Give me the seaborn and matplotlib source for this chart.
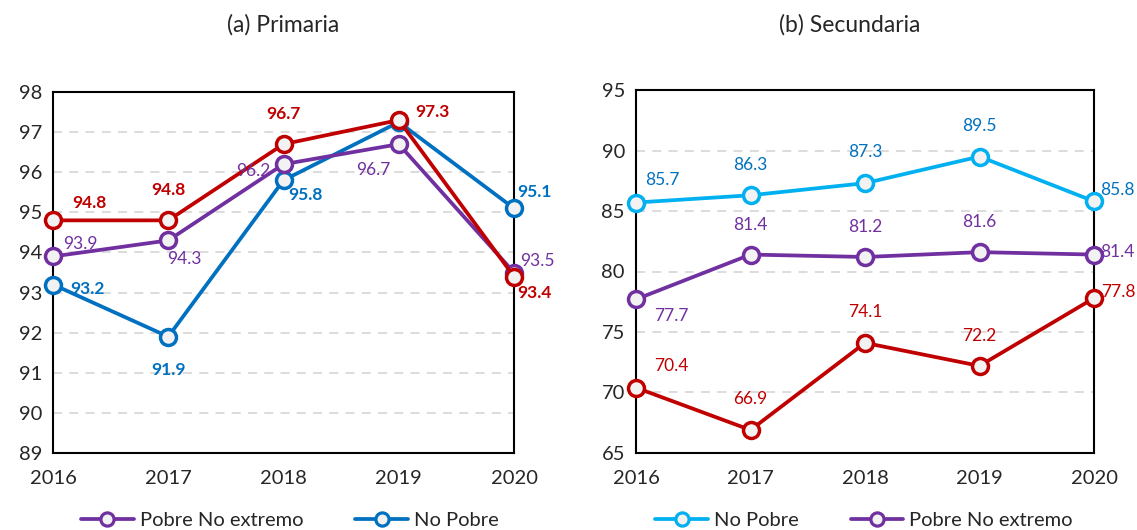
import pandas as pd
import seaborn as sns
import matplotlib
matplotlib.use('Agg')
import matplotlib.pyplot as plt
from matplotlib.lines import Line2D

# datos
anios = [2016, 2017, 2018, 2019, 2020]

prim_extremo = [94.8, 94.8, 96.7, 97.3, 93.4]
prim_no_extremo = [93.9, 94.3, 96.2, 96.7, 93.5]
prim_no_pobre = [93.2, 91.9, 95.8, 97.25, 95.1]

sec_no_pobre = [85.7, 86.3, 87.3, 89.5, 85.8]
sec_no_extremo = [77.7, 81.4, 81.2, 81.6, 81.4]
sec_extremo = [70.4, 66.9, 74.1, 72.2, 77.8]

ROJO = '#C00000'
MORADO = '#7030A0'
AZUL = '#0070C0'
CELESTE = '#00B0F0'
RELLENO = '#F2F2F2'

sns.set_style('white')
plt.rcParams['font.family'] = ['Lato', 'DejaVu Sans']

# offsets de las etiquetas en pixeles (dx, dy, alineación); None = sin etiqueta
off_prim = {
    'Pobre extremo': [(36, 17, 'center'), (0, 30, 'center'), (0, 30, 'center'),
                      (34, 8, 'center'), (20, -16, 'center')],
    'Pobre No extremo': [(27, 12, 'center'), (16, -19, 'center'), (-30, -7, 'center'),
                         (-25, -26, 'center'), (23, 11, 'center')],
    'No Pobre': [(34, -4, 'center'), (0, -33, 'center'), (22, -15, 'center'),
                 None, (20, 16, 'center')],
}
off_sec = {
    'No Pobre': [(26, 23, 'center'), (0, 30, 'center'), (0, 31, 'center'),
                 (0, 31, 'center'), (6, 11, 'left')],
    'Pobre No extremo': [(35, -17, 'center'), (0, 30, 'center'), (0, 30, 'center'),
                         (0, 30, 'center'), (6, 3, 'left')],
    'Pobre extremo': [(35, 22, 'center'), (0, 31, 'center'), (0, 31, 'center'),
                      (0, 30, 'center'), (7, 6, 'left')],
}


def armar_df(series):
    filas = []
    for nombre, valores in series.items():
        for a, v in zip(anios, valores):
            filas.append({'Año': a, 'Valor': v, 'Grupo': nombre})
    return pd.DataFrame(filas)


def dibujar(ax, df, orden, colores, col_texto, offsets, negrita, ylim, yticks):
    for z, grupo in enumerate(orden):
        sub = df[df['Grupo'] == grupo]
        c = colores[grupo]
        sns.lineplot(data=sub, x='Año', y='Valor', ax=ax, color=c, marker='o',
                     markersize=11.5, markerfacecolor=RELLENO, markeredgecolor=c,
                     markeredgewidth=2.5, linewidth=2.7, zorder=3 + z,
                     legend=False, clip_on=False)
        for (a, v), off in zip(zip(sub['Año'], sub['Valor']), offsets[grupo]):
            if off is None:
                continue
            ax.annotate(f'{v:.1f}', (a, v), xytext=off[:2], textcoords='offset pixels',
                        ha=off[2], va='center', color=col_texto[grupo], fontsize=12.5,
                        fontweight='bold' if grupo in negrita else 'normal',
                        annotation_clip=False, zorder=10)
    ax.set_xlim(2016, 2020)
    ax.set_ylim(*ylim)
    ax.set_xticks(anios)
    ax.set_yticks(yticks)
    ax.tick_params(length=0, labelsize=14.5)
    ax.tick_params(axis='x', pad=12)
    ax.tick_params(axis='y', pad=8)
    ax.set_xlabel('')
    ax.set_ylabel('')
    for y in yticks[1:-1]:
        ax.axhline(y, color='#D9D9D9', linestyle=(0, (5, 4)), linewidth=1.3, zorder=1)
    for s in ax.spines.values():
        s.set_color('black')
        s.set_linewidth(1.5)


fig = plt.figure(figsize=(11.37, 5.3), dpi=100)
ax1 = fig.add_axes([53 / 1137, 77 / 530, 461 / 1137, 361 / 530])
ax2 = fig.add_axes([636 / 1137, 77 / 530, 458 / 1137, 363 / 530])

df_prim = armar_df({'Pobre extremo': prim_extremo,
                    'Pobre No extremo': prim_no_extremo,
                    'No Pobre': prim_no_pobre})
df_sec = armar_df({'No Pobre': sec_no_pobre,
                   'Pobre No extremo': sec_no_extremo,
                   'Pobre extremo': sec_extremo})

col_prim = {'Pobre extremo': ROJO, 'Pobre No extremo': MORADO, 'No Pobre': AZUL}
col_sec = {'Pobre extremo': ROJO, 'Pobre No extremo': MORADO, 'No Pobre': CELESTE}
txt_sec = {'Pobre extremo': ROJO, 'Pobre No extremo': MORADO, 'No Pobre': AZUL}

dibujar(ax1, df_prim, ['No Pobre', 'Pobre No extremo', 'Pobre extremo'],
        col_prim, col_prim, off_prim, ['Pobre extremo', 'No Pobre'],
        (89, 98), list(range(89, 99)))
dibujar(ax2, df_sec, ['No Pobre', 'Pobre No extremo', 'Pobre extremo'],
        col_sec, txt_sec, off_sec, [], (65, 95), list(range(65, 96, 5)))

fig.text(283 / 1137, 1 - 25 / 530, '(a) Primaria', ha='center', va='center', fontsize=16.5)
fig.text(850 / 1137, 1 - 25 / 530, '(b) Secundaria', ha='center', va='center', fontsize=16.5)


def manija(c):
    return Line2D([], [], color=c, marker='o', markersize=9.5, markerfacecolor=RELLENO,
                  markeredgecolor=c, markeredgewidth=2.3, linewidth=2.7)


fig.legend([manija(MORADO), manija(AZUL)], ['Pobre No extremo', 'No Pobre'],
           loc='center', bbox_to_anchor=(0.255, 0.018), ncol=2, frameon=False,
           fontsize=14.5, handlelength=2.6, columnspacing=2.6, handletextpad=0.3)
fig.legend([manija(CELESTE), manija(MORADO)], ['No Pobre', 'Pobre No extremo'],
           loc='center', bbox_to_anchor=(0.76, 0.018), ncol=2, frameon=False,
           fontsize=14.5, handlelength=2.6, columnspacing=2.6, handletextpad=0.3)

fig.savefig('out.png', dpi=100)
